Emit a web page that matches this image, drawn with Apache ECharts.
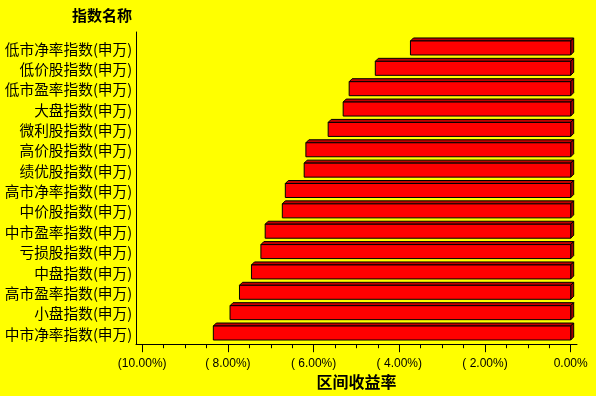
<!DOCTYPE html>
<html>
<head>
<meta charset="utf-8">
<style>
html,body{margin:0;padding:0;background:#FFFF00;}
#main{width:596px;height:396px;}
</style>
<script src="https://cdn.jsdelivr.net/npm/echarts@6/dist/echarts.min.js"></script>
</head>
<body>
<div id="main"></div>
<script>
const categories = [
  '低市净率指数(申万)','低价股指数(申万)','低市盈率指数(申万)','大盘指数(申万)','微利股指数(申万)',
  '高价股指数(申万)','绩优股指数(申万)','高市净率指数(申万)','中价股指数(申万)','中市盈率指数(申万)',
  '亏损股指数(申万)','中盘指数(申万)','高市盈率指数(申万)','小盘指数(申万)','中市净率指数(申万)'
];
const returns = [-3.74, -4.56, -5.17, -5.31, -5.66, -6.18, -6.22, -6.66, -6.73, -7.13, -7.23, -7.45, -7.73, -7.95, -8.34];
const tickValues = [-10, -8, -6, -4, -2, 0];
const tickLabels = ['(10.00%)', '( 8.00%)', '( 6.00%)', '( 4.00%)', '( 2.00%)', '0.00%'];

const chart = echarts.init(document.getElementById('main'), null, {renderer: 'canvas'});
const cjk = '"Noto Sans CJK SC", sans-serif';

function renderBar(params, api) {
  const v = api.value(0), i = api.value(1);
  const p0 = api.coord([0, i]);
  const p1 = api.coord([v, i]);
  const x0 = p1[0], x1 = p0[0], cy = p0[1];
  const t = cy - 8, b = cy + 6, d = 3;
  const stroke = {stroke: '#000', lineWidth: 1};
  return {
    type: 'group',
    children: [
      {type: 'polygon', shape: {points: [[x0, t], [x0 + d, t - d], [x1 + d, t - d], [x1, t]]},
       style: Object.assign({fill: '#C00000'}, stroke)},
      {type: 'polygon', shape: {points: [[x1, t], [x1 + d, t - d], [x1 + d, b - d], [x1, b]]},
       style: Object.assign({fill: '#A00000'}, stroke)},
      {type: 'rect', shape: {x: x0, y: t, width: x1 - x0, height: b - t},
       style: Object.assign({fill: '#FF0000'}, stroke)}
    ]
  };
}

chart.setOption({
  backgroundColor: '#FFFF00',
  animation: false,
  title: {
    text: '指数名称', left: 67, top: 3,
    textStyle: {fontFamily: cjk, fontSize: 15, fontWeight: 'bold', color: '#000'}
  },
  grid: [
    {left: 142.2, right: 25.3, top: 38.8, bottom: 51.8},
    {left: 136, right: 19, top: 32, bottom: 51.8}
  ],
  xAxis: [
    {
      type: 'value', gridIndex: 0, min: -10, max: 0, interval: 2,
      name: '区间收益率', nameLocation: 'middle', nameGap: 29,
      nameTextStyle: {fontFamily: cjk, fontSize: 16, fontWeight: 'bold', color: '#000'},
      axisLine: {show: false},
      axisTick: {show: true, length: 8, lineStyle: {color: '#000'}},
      minorTick: {show: true, splitNumber: 4, length: 4, lineStyle: {color: '#000'}},
      splitLine: {show: false},
      axisLabel: {
        show: true, margin: 13, fontFamily: '"Liberation Sans", Arial, sans-serif', fontSize: 12, color: '#000',
        formatter: function (val) {
          const k = tickValues.indexOf(Math.round(val * 100) / 100);
          return k >= 0 ? tickLabels[k] : '';
        }
      }
    },
    {
      type: 'value', gridIndex: 1, min: 0, max: 1,
      axisLine: {show: true, onZero: false, lineStyle: {color: '#000', width: 1}},
      axisTick: {show: false}, axisLabel: {show: false}, splitLine: {show: false}
    }
  ],
  yAxis: [
    {
      type: 'category', gridIndex: 0, data: categories, inverse: true,
      axisLine: {show: false}, axisTick: {show: false}, splitLine: {show: false},
      axisLabel: {margin: 10, fontFamily: cjk, fontSize: 14.7, color: '#000', interval: 0}
    },
    {
      type: 'value', gridIndex: 1, min: 0, max: 1,
      axisLine: {show: true, onZero: false, lineStyle: {color: '#000', width: 1}},
      axisTick: {show: false}, axisLabel: {show: false}, splitLine: {show: false}
    }
  ],
  series: [{
    type: 'custom',
    xAxisIndex: 0, yAxisIndex: 0,
    clip: false,
    renderItem: renderBar,
    encode: {x: 0, y: 1},
    data: returns.map((v, i) => [v, i])
  }]
});
</script>
</body>
</html>
